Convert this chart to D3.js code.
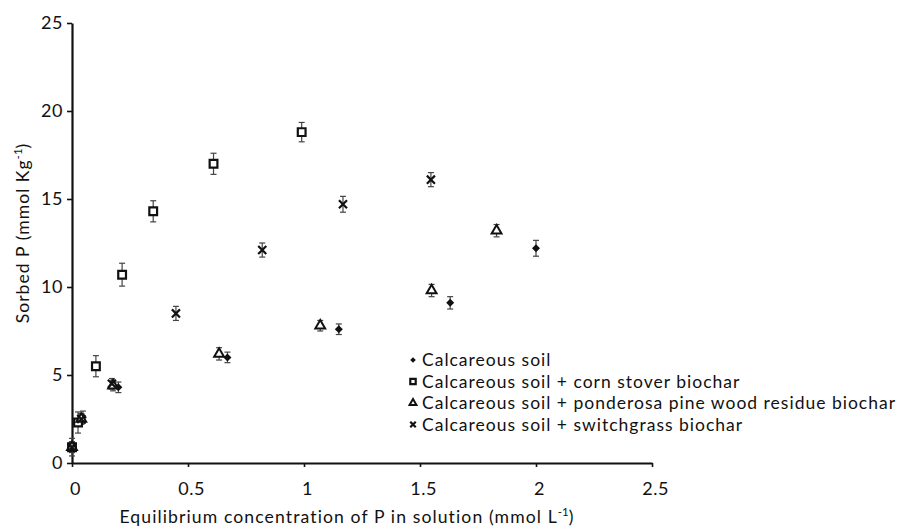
<!DOCTYPE html>
<html><head><meta charset="utf-8">
<script src="https://cdn.jsdelivr.net/npm/d3@7"></script>
<style>body{margin:0;background:#fff}svg{display:block}text{font-family:Lato,"Open Sans",sans-serif;fill:#111}</style>
</head><body>
<script>
// ---- data ----
const xTicks = [0, 0.5, 1, 1.5, 2, 2.5];
const yTicks = [0, 5, 10, 15, 20, 25];
const seriesNames = ["Calcareous soil", "Calcareous soil + corn stover biochar", "Calcareous soil + ponderosa pine wood residue biochar", "Calcareous soil + switchgrass biochar"];

const calcX = [0.00, 0.047, 0.20, 0.67, 1.15, 1.63, 2.00];
const calcY = [0.9, 2.6, 4.3, 6.0, 7.6, 9.1, 12.2];
const calcErr = [0.3, 0.35, 0.3, 0.3, 0.3, 0.35, 0.45];

const cornX = [0.00, 0.026, 0.103, 0.216, 0.35, 0.61, 0.99];
const cornY = [0.9, 2.3, 5.5, 10.7, 14.3, 17.0, 18.8];
const cornErr = [0.5, 0.6, 0.6, 0.65, 0.6, 0.6, 0.55];

const pineX = [0.00, 0.04, 0.177, 0.634, 1.07, 1.55, 1.83];
const pineY = [0.9, 2.5, 4.4, 6.2, 7.8, 9.8, 13.2];
const pineErr = [0.3, 0.3, 0.3, 0.35, 0.3, 0.35, 0.35];

const switchX = [0.00, 0.04, 0.172, 0.448, 0.82, 1.168, 1.547];
const switchY = [0.9, 2.5, 4.5, 8.5, 12.1, 14.7, 16.1];
const switchErr = [0.3, 0.3, 0.3, 0.4, 0.4, 0.45, 0.4];

// ---- chart ----
const W = 917, H = 529;
const svg = d3.select("body").append("svg").attr("width", W).attr("height", H);
const x = d3.scaleLinear().domain([0, 2.5]).range([72, 652]);
const y = d3.scaleLinear().domain([0, 25]).range([463, 23]);

const xAxis = svg.append("g").attr("transform", `translate(0,${y(0)})`)
  .call(d3.axisBottom(x).tickValues(xTicks).tickSize(4).tickSizeOuter(0).tickFormat(d => d3.format("")(d)));
const yAxis = svg.append("g").attr("transform", `translate(${x(0)},0)`)
  .call(d3.axisLeft(y).tickValues(yTicks).tickSize(5).tickSizeOuter(0));
[xAxis, yAxis].forEach(a => {
  a.select(".domain").attr("stroke", "#111").attr("stroke-width", 2.2);
  a.selectAll(".tick line").attr("stroke", "#111").attr("stroke-width", 1.6);
  a.selectAll(".tick text").style("font-family", "Lato, sans-serif").style("font-size", "18px")
    .style("letter-spacing", "0.5px").attr("fill", "#111");
});
xAxis.selectAll(".tick text").attr("y", 0).attr("dy", 0).attr("transform", "translate(3,32)");
yAxis.selectAll(".tick text").attr("x", -9);

// axis titles
const xt = svg.append("text").attr("x", 347).attr("y", 523).attr("text-anchor", "middle")
  .style("font-size", "17.6px").style("letter-spacing", "1.1px");
xt.append("tspan").text("Equilibrium concentration of P in solution (mmol L");
xt.append("tspan").attr("dy", -7).style("font-size", "11.5px").style("letter-spacing", "0px").text("-1");
xt.append("tspan").attr("dy", 7).text(")");

const yt = svg.append("text").attr("transform", `translate(29,233) rotate(-90)`).attr("text-anchor", "middle")
  .style("font-size", "17.6px").style("letter-spacing", "1px");
yt.append("tspan").text("Sorbed P (mmol Kg");
yt.append("tspan").attr("dy", -7).style("font-size", "11.5px").style("letter-spacing", "0px").text("-1");
yt.append("tspan").attr("dy", 7).text(")");

const series = [
  {xs: calcX, ys: calcY, es: calcErr, type: "diamond"},
  {xs: cornX, ys: cornY, es: cornErr, type: "square"},
  {xs: pineX, ys: pineY, es: pineErr, type: "triangle"},
  {xs: switchX, ys: switchY, es: switchErr, type: "times"}
];

function drawMarker(g, type, cx, cy, scale) {
  const s = scale || 1;
  if (type === "diamond") {
    g.append("path").attr("d", d3.symbol(d3.symbolSquare, 32 * s * s)())
      .attr("transform", `translate(${cx},${cy}) rotate(45)`).attr("fill", "#111");
  } else if (type === "square") {
    g.append("path").attr("d", d3.symbol(d3.symbolSquare, 60 * s * s)())
      .attr("transform", `translate(${cx},${cy})`).attr("fill", "#fff").attr("stroke", "#111").attr("stroke-width", 2.2);
  } else if (type === "triangle") {
    g.append("path").attr("d", d3.symbol(d3.symbolTriangle, 42 * s * s)())
      .attr("transform", `translate(${cx},${cy})`).attr("fill", "#fff").attr("stroke", "#111").attr("stroke-width", 2);
  } else {
    g.append("path").attr("d", d3.symbol(d3.symbolTimes, 44 * s * s)())
      .attr("transform", `translate(${cx},${cy})`).attr("fill", "none").attr("stroke", "#111").attr("stroke-width", 2.2);
  }
}

const plot = svg.append("g");
series.forEach(s => {
  const g = plot.append("g");
  s.xs.forEach((xv, i) => {
    const cx = x(xv), y1 = y(s.ys[i] + s.es[i]), y2 = y(s.ys[i] - s.es[i]);
    g.append("line").attr("x1", cx).attr("x2", cx).attr("y1", y1).attr("y2", y2).attr("stroke", "#444").attr("stroke-width", 1.2);
    [y1, y2].forEach(yy => g.append("line").attr("x1", cx - 3).attr("x2", cx + 3).attr("y1", yy).attr("y2", yy).attr("stroke", "#444").attr("stroke-width", 1.2));
  });
});
series.forEach(s => {
  const g = plot.append("g");
  s.xs.forEach((xv, i) => drawMarker(g, s.type, x(xv), y(s.ys[i])));
});

// legend
const leg = svg.append("g");
seriesNames.forEach((n, i) => {
  const ly = 360 + i * 21.5;
  drawMarker(leg, series[i].type, 413, ly, 0.7);
  leg.append("text").attr("x", 422).attr("y", ly).attr("dy", "0.36em")
    .style("font-size", "17.5px").style("letter-spacing", "1px").text(n);
});
</script>
</body></html>
